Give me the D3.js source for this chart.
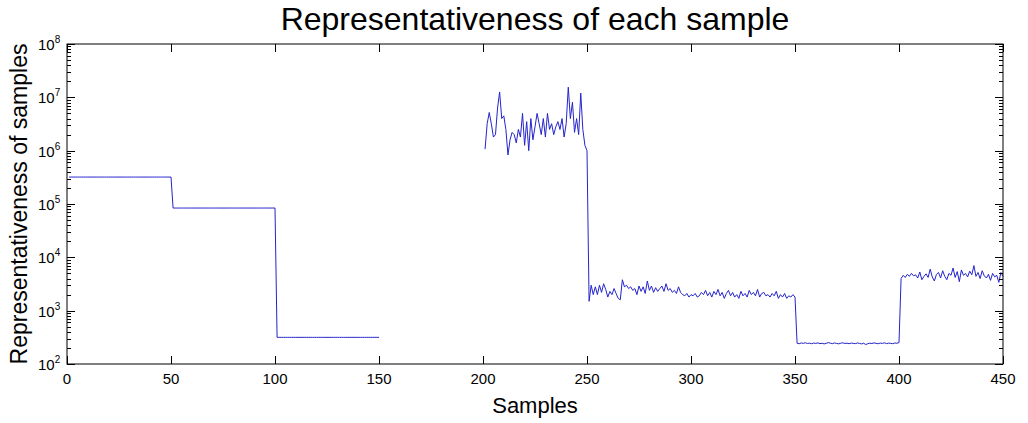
<!DOCTYPE html>
<html>
<head>
<meta charset="utf-8">
<script src="https://cdn.jsdelivr.net/npm/d3@7"></script>
<style>
  html, body { margin: 0; padding: 0; background: #fff; }
  svg { display: block; font-family: "Liberation Sans", Arial, Helvetica, sans-serif; }
</style>
</head>
<body>
<svg id="chart" width="1028" height="423"></svg>
<script>
// Sample index blocks (1-based, inclusive)
const flatBlocks = [
  { from: 1,   to: 50,  level: 3.2e5 },
  { from: 51,  to: 100, level: 8.4e4 },
  { from: 101, to: 150, level: 316 }
];
// samples 151-200 have no value (gap)

// samples 201-250
const block201 = [
  1.07e6, 3.2e6, 5.2e6, 3.2e6, 1.8e6, 2.0e6, 6.3e6, 1.26e7, 4.0e6, 4.5e6,
  2.5e6, 8.3e5, 1.6e6, 2.2e6, 2.0e6, 1.4e6, 2.5e6, 1.8e6, 5.0e6, 1.26e6,
  3.5e6, 1.0e6, 4.0e6, 1.6e6, 2.8e6, 5.0e6, 3.2e6, 2.0e6, 4.0e6, 1.8e6,
  5.0e6, 2.5e6, 3.2e6, 2.0e6, 2.8e6, 3.5e6, 2.5e6, 4.0e6, 1.8e6, 3.2e6,
  1.55e7, 4.0e6, 8.1e6, 2.2e6, 4.0e6, 2.0e6, 1.2e7, 2.5e6, 1.26e6, 1.0e6
];

// samples 251-350
const block251 = [
  1.5e3, 3.0e3, 2.0e3, 2.8e3, 2.0e3, 3.0e3, 2.2e3, 3.2e3, 2.5e3, 1.8e3,
  2.3e3, 2.0e3, 2.6e3, 2.1e3, 1.7e3, 1.6e3, 3.8e3, 2.8e3, 3.0e3, 2.6e3,
  2.8e3, 2.4e3, 2.6e3, 2.0e3, 2.9e3, 2.3e3, 2.8e3, 2.1e3, 3.6e3, 2.4e3,
  2.9e3, 2.2e3, 2.7e3, 2.3e3, 2.6e3, 2.9e3, 2.3e3, 3.2e3, 2.4e3, 2.6e3,
  2.2e3, 2.4e3, 2.1e3, 2.8e3, 2.2e3, 2.0e3, 1.9e3, 2.1e3, 1.8e3, 2.0e3,
  1.9e3, 2.1e3, 1.8e3, 1.9e3, 2.2e3, 2.0e3, 2.4e3, 1.9e3, 2.2e3, 1.8e3,
  2.3e3, 2.0e3, 2.5e3, 1.9e3, 2.2e3, 1.7e3, 2.1e3, 2.4e3, 1.9e3, 2.2e3,
  1.8e3, 2.0e3, 1.7e3, 2.3e3, 1.9e3, 2.1e3, 1.8e3, 2.4e3, 2.0e3, 2.2e3,
  1.9e3, 2.5e3, 1.8e3, 2.1e3, 2.2e3, 1.9e3, 2.0e3, 1.8e3, 2.1e3, 1.9e3,
  2.3e3, 1.7e3, 2.0e3, 1.8e3, 2.1e3, 1.7e3, 1.9e3, 1.8e3, 2.0e3, 1.8e3
];

// samples 351-400
const block351 = [
  245, 240, 248, 244, 250, 242, 246, 240, 247, 243,
  249, 241, 245, 238, 244, 252, 246, 241, 248, 243,
  239, 245, 250, 242, 246, 240, 247, 244, 241, 248,
  243, 238, 245, 232, 240, 246, 242, 249, 244, 240,
  247, 243, 250, 241, 246, 244, 240, 248, 245, 252
];

// samples 401-450
const block401 = [
  4.0e3, 4.6e3, 4.2e3, 4.8e3, 4.4e3, 5.0e3, 4.5e3, 4.7e3, 4.1e3, 5.3e3,
  3.8e3, 4.4e3, 4.9e3, 4.2e3, 6.0e3, 4.3e3, 3.6e3, 4.8e3, 5.2e3, 4.1e3,
  5.6e3, 4.4e3, 3.8e3, 5.0e3, 4.6e3, 6.3e3, 4.2e3, 5.4e3, 3.5e3, 5.8e3,
  4.6e3, 5.0e3, 4.3e3, 5.5e3, 4.7e3, 7.0e3, 4.4e3, 5.2e3, 4.0e3, 5.6e3,
  4.5e3, 4.1e3, 4.8e3, 3.7e3, 5.0e3, 4.3e3, 4.6e3, 3.4e3, 5.2e3, 4.4e3
];

const xTickValues = [0, 50, 100, 150, 200, 250, 300, 350, 400, 450];
const yExponents = [2, 3, 4, 5, 6, 7, 8];

// Assemble the full series of 450 samples; null marks a gap
const series = [];
flatBlocks.forEach(b => {
  for (let s = b.from; s <= b.to; s++) series.push({ s, v: b.level });
});
for (let s = 151; s <= 200; s++) series.push({ s, v: null });
[[201, block201], [251, block251], [351, block351], [401, block401]].forEach(([start, arr]) => {
  arr.forEach((v, i) => series.push({ s: start + i, v }));
});

const W = 1028, H = 423;
const margin = { left: 67, right: 25, top: 44, bottom: 59 };
const x = d3.scaleLinear().domain([0, 450]).range([margin.left, W - margin.right]);
const y = d3.scaleLog().domain([1e2, 1e8]).range([H - margin.bottom, margin.top]);

const svg = d3.select("#chart");
const x0 = x.range()[0], x1 = x.range()[1];
const yb = y.range()[0], yt = y.range()[1];

// Data line
const line = d3.line()
  .defined(d => d.v != null)
  .x(d => x(d.s))
  .y(d => y(d.v));

svg.append("path")
  .datum(series)
  .attr("fill", "none")
  .attr("stroke", "#2424cc")
  .attr("stroke-width", 1)
  .attr("stroke-linejoin", "round")
  .attr("d", line);

// Axes box
svg.append("rect")
  .attr("x", x0).attr("y", yt)
  .attr("width", x1 - x0).attr("height", yb - yt)
  .attr("fill", "none").attr("stroke", "#000").attr("stroke-width", 1);

const ticks = svg.append("g").attr("stroke", "#000").attr("stroke-width", 1);
const majorLen = 8, minorLen = 4;

// x ticks (inside, bottom and top)
xTickValues.forEach(v => {
  const px = Math.round(x(v)) + 0.5;
  ticks.append("line").attr("x1", px).attr("x2", px).attr("y1", yb).attr("y2", yb - majorLen);
  ticks.append("line").attr("x1", px).attr("x2", px).attr("y1", yt).attr("y2", yt + majorLen);
});

// y ticks: decades and minor ticks (inside, left and right)
yExponents.forEach((e, i) => {
  const py = Math.round(y(Math.pow(10, e))) + 0.5;
  ticks.append("line").attr("x1", x0).attr("x2", x0 + majorLen).attr("y1", py).attr("y2", py);
  ticks.append("line").attr("x1", x1).attr("x2", x1 - majorLen).attr("y1", py).attr("y2", py);
  if (i < yExponents.length - 1) {
    for (let m = 2; m <= 9; m++) {
      const pm = Math.round(y(m * Math.pow(10, e))) + 0.5;
      ticks.append("line").attr("x1", x0).attr("x2", x0 + minorLen).attr("y1", pm).attr("y2", pm);
      ticks.append("line").attr("x1", x1).attr("x2", x1 - minorLen).attr("y1", pm).attr("y2", pm);
    }
  }
});

// x tick labels
svg.append("g").selectAll("text")
  .data(xTickValues)
  .join("text")
  .attr("x", d => x(d))
  .attr("y", yb + 20)
  .attr("text-anchor", "middle")
  .attr("font-size", 15)
  .attr("fill", "#000")
  .text(d => d);

// y tick labels: 10 with superscript exponent
const yl = svg.append("g").selectAll("text")
  .data(yExponents)
  .join("text")
  .attr("x", x0 - 29)
  .attr("y", d => y(Math.pow(10, d)) + 6)
  .attr("font-size", 15)
  .attr("fill", "#000");
yl.append("tspan").text("10");
yl.append("tspan").attr("dy", -7).attr("font-size", 10).text(d => d);

// Title
svg.append("text")
  .attr("x", (x0 + x1) / 2)
  .attr("y", 30)
  .attr("text-anchor", "middle")
  .attr("font-size", 32)
  .attr("fill", "#000")
  .text("Representativeness of each sample");

// x axis label
svg.append("text")
  .attr("x", (x0 + x1) / 2)
  .attr("y", 413)
  .attr("text-anchor", "middle")
  .attr("font-size", 22)
  .attr("fill", "#000")
  .text("Samples");

// y axis label
svg.append("text")
  .attr("transform", `translate(27, ${(yt + yb) / 2}) rotate(-90)`)
  .attr("text-anchor", "middle")
  .attr("font-size", 23)
  .attr("fill", "#000")
  .text("Representativeness of samples");
</script>
</body>
</html>
